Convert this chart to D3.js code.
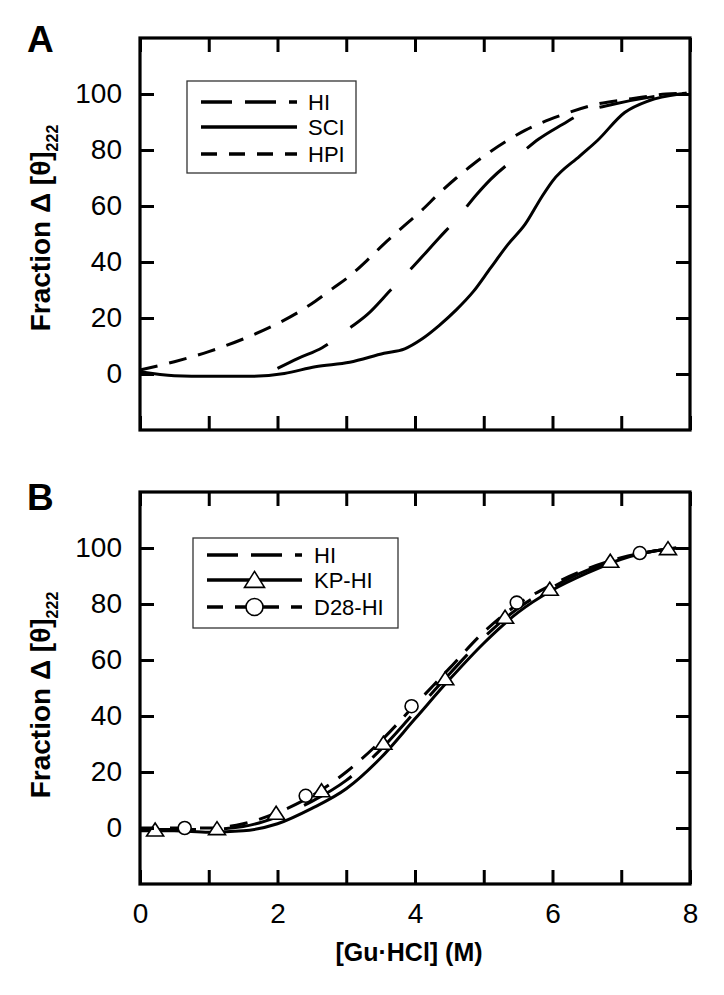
<!DOCTYPE html>
<html>
<head>
<meta charset="utf-8">
<script src="https://cdn.jsdelivr.net/npm/d3@7"></script>
<style>
  html, body { margin: 0; padding: 0; background: #fff; }
  svg { display: block; }
  text { font-family: "Liberation Sans", Arial, Helvetica, sans-serif; fill: #000; }
</style>
</head>
<body>
<svg id="chart" width="724" height="995"></svg>
<script>
// ---------------- DATA ----------------
const xTickValues = [0, 1, 2, 3, 4, 5, 6, 7, 8];
const xTickLabels = [0, 2, 4, 6, 8];
const yTickValues = [0, 20, 40, 60, 80, 100];

// Panel A
const hiA_x  = [2.0, 2.3, 2.65, 3.05, 3.3, 3.65, 4.0, 4.35, 4.6, 4.9, 5.1, 5.5, 5.8, 6.15, 6.45, 6.9, 7.4, 7.95];
const hiA_y  = [2.0, 5.6, 9.4, 16.4, 21.1, 30.1, 39.1, 48.6, 55.2, 64.2, 69.5, 77.9, 83.9, 89.2, 93.4, 96.4, 98.8, 100.3];
const sciA_x = [0, 0.5, 1.0, 1.6, 2.1, 2.55, 3.05, 3.55, 3.85, 4.1, 4.35, 4.6, 4.85, 5.1, 5.35, 5.6, 5.85, 6.0, 6.4, 6.65, 7.05, 7.4, 7.85, 7.95];
const sciA_y = [0.8, -0.6, -0.8, -0.8, 0.2, 2.6, 4.2, 7.4, 9.0, 12.5, 17.3, 22.9, 29.5, 37.9, 46.2, 53.4, 63.5, 68.9, 77.9, 83.3, 93.4, 97.6, 100.0, 100.3];
const hpiA_x = [0, 0.5, 1.0, 1.5, 2.0, 2.3, 2.55, 2.8, 3.05, 3.3, 3.55, 3.8, 4.1, 4.35, 4.6, 4.85, 5.1, 5.35, 5.6, 6.1, 6.65, 7.15, 7.65, 7.95];
const hpiA_y = [1.4, 4.4, 8.0, 12.5, 18.0, 22.0, 26.0, 30.5, 35.0, 40.5, 46.5, 52.0, 58.5, 64.5, 70.0, 75.0, 79.5, 83.5, 87.0, 92.2, 96.4, 98.3, 100.0, 100.3];

// Panel B
const B_x    = [0, 0.5, 1, 1.5, 2, 2.5, 3, 3.5, 4, 4.5, 5, 5.5, 6, 6.5, 7, 7.5, 7.8];
const hiB_y  = [-0.5, -0.5, -0.5, 0.5, 4, 9.5, 17, 28, 41.5, 55, 68, 78.5, 86, 92, 96, 99, 100];
const kpB_y  = [-1, -1, -1.5, -1, 1.5, 7, 14, 25, 39, 53, 66, 77, 85, 91, 96, 99, 100];
const d28B_y = [0, 0, 0, 1.5, 5.5, 11.5, 20, 31, 44, 57, 70, 80, 87, 92.5, 96.5, 99, 100];
const kpMark_x  = [0.22, 1.12, 1.98, 2.64, 3.54, 4.44, 5.31, 5.96, 6.84, 7.68];
const kpMark_y  = [-1, -0.5, 5, 13, 30, 53, 75, 85, 95, 99.5];
const d28Mark_x = [0.65, 2.41, 3.95, 5.48, 7.27];
const d28Mark_y = [0, 11.5, 43.5, 80.5, 98.2];

const legendA = ["HI", "SCI", "HPI"];
const legendB = ["HI", "KP-HI", "D28-HI"];

// ---------------- LAYOUT ----------------
const svg = d3.select("#chart");
const L = 140, R = 690;
const panels = [
  { letter: "A", top: 38, bottom: 430, letterY: 52, labelCY: 228,
    legend: { x: 187, y: 81, w: 169, h: 92, rows: [102, 127, 154], lx0: 201, lx1: 297, tx: 308 } },
  { letter: "B", top: 492, bottom: 884, letterY: 510, labelCY: 695,
    legend: { x: 193, y: 538, w: 205, h: 90, rows: [555, 580, 607], lx0: 207, lx1: 302, tx: 314 } }
];

const x = d3.scaleLinear().domain([0, 8]).range([L, R]);
const dashLong = "56,28", dashShort = "18,12";
const legDashLong = "31,13", legDashShort = "16,12";

function triPath(w, h) {
  return `M0,${-h * 0.6}L${w / 2},${h * 0.4}L${-w / 2},${h * 0.4}Z`;
}

panels.forEach((p, i) => {
  const y = d3.scaleLinear().domain([-20, 120]).range([p.bottom, p.top]);
  const g = svg.append("g");

  const line = d3.line().x(d => x(d[0])).y(d => y(d[1])).curve(d3.curveMonotoneX);

  function drawCurve(xs, ys, dash) {
    g.append("path")
      .datum(xs.map((v, k) => [v, ys[k]]))
      .attr("d", line)
      .attr("fill", "none").attr("stroke", "#000").attr("stroke-width", 3)
      .attr("stroke-dasharray", dash || null);
  }

  if (i === 0) {
    drawCurve(hpiA_x, hpiA_y, dashShort);
    drawCurve(hiA_x, hiA_y, dashLong);
    drawCurve(sciA_x, sciA_y, null);
  } else {
    drawCurve(B_x, hiB_y, dashLong);
    drawCurve(B_x, d28B_y, dashShort);
    drawCurve(B_x, kpB_y, null);
    g.selectAll("path.tri").data(kpMark_x.map((v, k) => [v, kpMark_y[k]])).enter()
      .append("path").attr("class", "tri")
      .attr("d", triPath(17, 13))
      .attr("transform", d => `translate(${x(d[0])},${y(d[1])})`)
      .attr("fill", "#fff").attr("stroke", "#000").attr("stroke-width", 1.6);
    g.selectAll("circle.circ").data(d28Mark_x.map((v, k) => [v, d28Mark_y[k]])).enter()
      .append("circle").attr("class", "circ")
      .attr("cx", d => x(d[0])).attr("cy", d => y(d[1])).attr("r", 6.5)
      .attr("fill", "#fff").attr("stroke", "#000").attr("stroke-width", 1.6);
  }

  // axes (inward ticks)
  const axB = d3.axisBottom(x).tickValues(xTickValues).tickSizeInner(-14).tickSizeOuter(0).tickPadding(19)
    .tickFormat(d => (i === 1 && xTickLabels.includes(d)) ? d : "");
  const axT = d3.axisTop(x).tickValues(xTickValues).tickSizeInner(-14).tickSizeOuter(0).tickFormat("");
  const axL = d3.axisLeft(y).tickValues(yTickValues).tickSizeInner(-14).tickSizeOuter(0).tickPadding(18);
  const axR = d3.axisRight(y).tickValues(yTickValues).tickSizeInner(-14).tickSizeOuter(0).tickFormat("");

  [[axB, `translate(0,${p.bottom})`], [axT, `translate(0,${p.top})`],
   [axL, `translate(${L},0)`], [axR, `translate(${R},0)`]].forEach(([ax, tr]) => {
    const a = g.append("g").attr("transform", tr).call(ax);
    a.select(".domain").remove();
    a.selectAll(".tick line").attr("stroke", "#000").attr("stroke-width", 3);
    a.selectAll(".tick text").attr("font-size", 28).attr("fill", "#000")
      .style("font-family", '"Liberation Sans", Arial, Helvetica, sans-serif');
  });

  // frame
  g.append("rect").attr("x", L).attr("y", p.top).attr("width", R - L).attr("height", p.bottom - p.top)
    .attr("fill", "none").attr("stroke", "#000").attr("stroke-width", 3.2);

  // panel letter
  g.append("text").attr("x", 27).attr("y", p.letterY).attr("font-size", 37).attr("font-weight", "bold").text(p.letter);

  // y label
  const yl = g.append("text").attr("transform", `translate(50,${p.labelCY}) rotate(-90)`)
    .attr("text-anchor", "middle").attr("font-size", 28).attr("font-weight", "bold");
  yl.append("tspan").text("Fraction \u0394 [\u03b8]");
  yl.append("tspan").attr("font-size", 16).attr("dy", 8).text("222");

  // legend
  const lg = p.legend;
  g.append("rect").attr("x", lg.x).attr("y", lg.y).attr("width", lg.w).attr("height", lg.h)
    .attr("fill", "#fff").attr("stroke", "#333").attr("stroke-width", 1.3);
  const names = i === 0 ? legendA : legendB;
  const dashes = [legDashLong, null, legDashShort];
  names.forEach((nm, k) => {
    const ry = lg.rows[k];
    g.append("line").attr("x1", lg.lx0).attr("x2", lg.lx1).attr("y1", ry).attr("y2", ry)
      .attr("stroke", "#000").attr("stroke-width", 3.6).attr("stroke-dasharray", dashes[k]);
    g.append("text").attr("x", lg.tx).attr("y", ry + 8).attr("font-size", 22).text(nm);
  });
  if (i === 1) {
    const cx = (lg.lx0 + lg.lx1) / 2;
    g.append("path").attr("d", triPath(20, 16)).attr("transform", `translate(${cx},${lg.rows[1] + 1})`)
      .attr("fill", "#fff").attr("stroke", "#000").attr("stroke-width", 1.6);
    g.append("circle").attr("cx", cx).attr("cy", lg.rows[2]).attr("r", 8.5)
      .attr("fill", "#fff").attr("stroke", "#000").attr("stroke-width", 1.6);
  }
});

// x axis title
svg.append("text").attr("x", 409).attr("y", 961).attr("text-anchor", "middle")
  .attr("font-size", 25).attr("font-weight", "bold").text("[Gu\u00b7HCl] (M)");
</script>
</body>
</html>
